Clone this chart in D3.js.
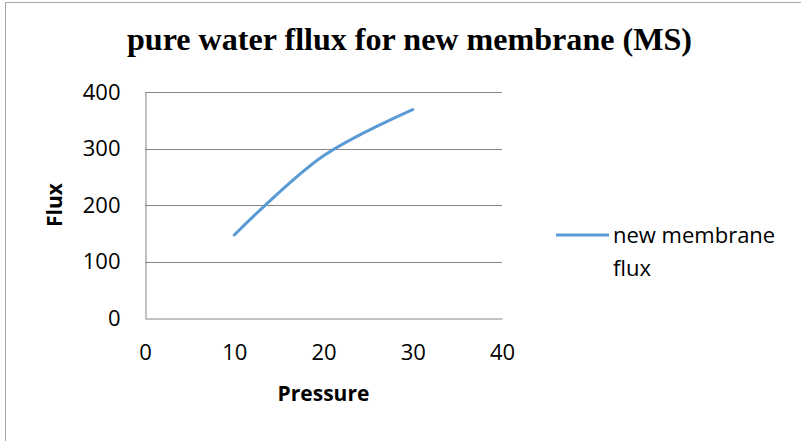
<!DOCTYPE html>
<html>
<head>
<meta charset="utf-8">
<script src="https://cdn.jsdelivr.net/npm/d3@7"></script>
<style>
  body { margin: 0; background: #fff; }
  text { font-family: "Open Sans", sans-serif; fill: #000; }
</style>
</head>
<body>
<svg id="chart" width="801" height="441"></svg>
<script>
// values
var pressure = [10, 20, 30];
var flux = [147, 287, 369];
var xTicks = [0, 10, 20, 30, 40];
var yTicks = [0, 100, 200, 300, 400];
var titleText = 'pure water fllux for new membrane (MS)';
var seriesName = ['new membrane', 'flux'];

var svg = d3.select('#chart');

// outer chart frame (only left/top edges show)
svg.append('rect')
    .attr('x', 5.5).attr('y', 2.5)
    .attr('width', 810).attr('height', 460)
    .attr('fill', 'none')
    .attr('stroke', '#a6a6a6')
    .attr('stroke-width', 1);

var plot = { left: 145, right: 502, top: 92, bottom: 318 };

var x = d3.scaleLinear().domain([0, 40]).range([plot.left, plot.right]);
var y = d3.scaleLinear().domain([0, 400]).range([plot.bottom, plot.top]);

// gridlines
svg.append('g')
    .selectAll('line')
    .data(yTicks.filter(function(d) { return d > 0; }))
    .enter()
    .append('line')
    .attr('x1', plot.left).attr('x2', plot.right)
    .attr('y1', function(d) { return Math.round(y(d)) + 0.5; })
    .attr('y2', function(d) { return Math.round(y(d)) + 0.5; })
    .attr('stroke', '#868686');

// axes
var yAxis = d3.axisLeft(y).tickValues(yTicks).tickSize(0).tickPadding(25);
var xAxis = d3.axisBottom(x).tickValues(xTicks).tickSize(0).tickPadding(26);

var gy = svg.append('g')
    .attr('transform', 'translate(' + (plot.left + 0.5) + ',0)')
    .call(yAxis);
var gx = svg.append('g')
    .attr('transform', 'translate(0,' + (plot.bottom + 0.5) + ')')
    .call(xAxis);

[gx, gy].forEach(function(g) {
    g.select('.domain').attr('stroke', '#868686');
    g.selectAll('text')
        .style('font-family', '"Open Sans", sans-serif')
        .style('font-size', '22px')
        .attr('fill', '#000');
});

// series line
var line = d3.line()
    .x(function(d, i) { return x(pressure[i]); })
    .y(function(d) { return y(d); })
    .curve(d3.curveCatmullRom.alpha(0.5));

svg.append('path')
    .datum(flux)
    .attr('d', line)
    .attr('fill', 'none')
    .attr('stroke', '#5b9bd5')
    .attr('stroke-width', 3)
    .attr('stroke-linecap', 'round');

// title
svg.append('text')
    .attr('x', 127).attr('y', 50)
    .attr('textLength', 565)
    .attr('lengthAdjust', 'spacingAndGlyphs')
    .style('font-family', '"Liberation Serif", "Times New Roman", serif')
    .style('font-weight', 'bold')
    .style('font-size', '32px')
    .text(titleText);

// axis titles
svg.append('text')
    .attr('x', (plot.left + plot.right) / 2)
    .attr('y', 401)
    .attr('text-anchor', 'middle')
    .style('font-weight', 'bold')
    .style('font-size', '21px')
    .text('Pressure');

svg.append('text')
    .attr('transform', 'translate(62,' + ((plot.top + plot.bottom) / 2) + ') rotate(-90)')
    .attr('text-anchor', 'middle')
    .style('font-weight', 'bold')
    .style('font-size', '21px')
    .text('Flux');

// legend
var legend = svg.append('g');
legend.append('line')
    .attr('x1', 556).attr('x2', 609)
    .attr('y1', 235).attr('y2', 235)
    .attr('stroke', '#5b9bd5')
    .attr('stroke-width', 3);
legend.selectAll('text')
    .data(seriesName)
    .enter()
    .append('text')
    .attr('x', 613)
    .attr('y', function(d, i) { return 243 + i * 33; })
    .style('font-size', '22px')
    .text(function(d) { return d; });
</script>
</body>
</html>
